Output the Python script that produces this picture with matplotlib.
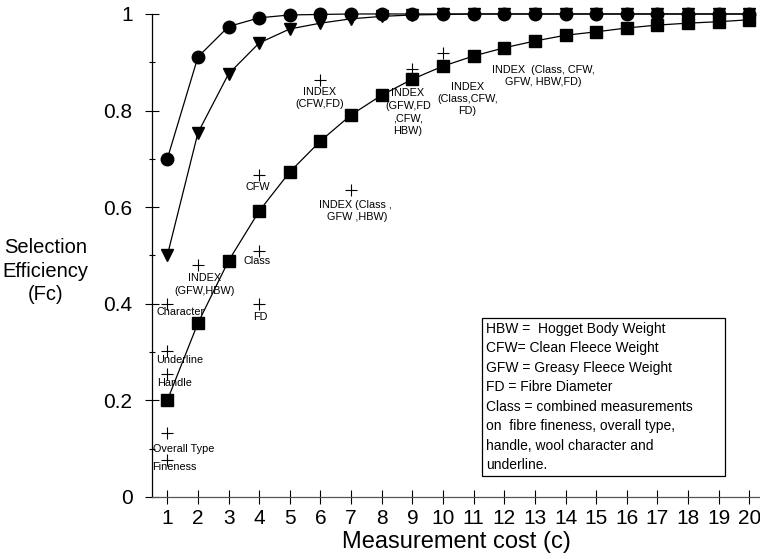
import matplotlib
matplotlib.use("Agg")
from matplotlib import pyplot as plt
from matplotlib.patches import Rectangle

plt.rcParams['font.family'] = ['Liberation Sans', 'DejaVu Sans']

# measurement cost
cost = list(range(1, 21))

# selection efficiency curves
eff_circle = [0.70, 0.911, 0.974, 0.992, 0.998, 0.999, 1.0, 1.0, 1.0, 1.0,
              1.0, 1.0, 1.0, 1.0, 1.0, 1.0, 1.0, 1.0, 1.0, 1.0]
eff_triangle = [0.50, 0.754, 0.876, 0.940, 0.969, 0.981, 0.990, 0.995, 0.998, 0.999,
                1.0, 1.0, 1.0, 1.0, 1.0, 1.0, 1.0, 1.0, 1.0, 1.0]
eff_square = [0.20, 0.36, 0.489, 0.592, 0.673, 0.737, 0.791, 0.832, 0.865, 0.892,
              0.913, 0.930, 0.944, 0.956, 0.963, 0.971, 0.977, 0.981, 0.984, 0.988]

# single traits / indices (crosses)
trait_names = ['Fineness', 'Overall Type', 'Handle', 'Underline', 'Character',
               'INDEX\n(GFW,HBW)', 'Class', 'FD', 'CFW', 'INDEX\n(CFW,FD)',
               'INDEX (Class ,\n GFW ,HBW)', 'INDEX\n(GFW,FD\n,CFW,\nHBW)',
               'INDEX\n(Class,CFW,\nFD)', 'INDEX  (Class, CFW,\nGFW, HBW,FD)']
trait_cost = [1, 1, 1, 1, 1, 2, 4, 4, 4, 6, 7, 9, 10, 13]
trait_eff = [0.077, 0.132, 0.254, 0.302, 0.40, 0.48, 0.51, 0.40, 0.667, 0.863,
             0.636, 0.886, 0.919, 0.944]

# label placement (x, y, ha) for each trait label
label_pos = [(0.52, 0.062, 'left'), (0.53, 0.099, 'left'), (1.24, 0.236, 'center'),
             (1.39, 0.284, 'center'), (1.43, 0.383, 'center'), (2.22, 0.44, 'center'),
             (3.94, 0.489, 'center'), (4.04, 0.373, 'center'), (3.97, 0.641, 'center'),
             (5.96, 0.826, 'center'), (7.14, 0.592, 'center'), (8.85, 0.797, 'center'),
             (10.8, 0.824, 'center'), (13.28, 0.872, 'center')]

yticks = [0, 0.2, 0.4, 0.6, 0.8, 1.0]
ytick_labels = ['0', '0.2', '0.4', '0.6', '0.8', '1']
yminor = [0.1, 0.3, 0.5, 0.7, 0.9]

legend_text = ("HBW =  Hogget Body Weight\n"
               "CFW= Clean Fleece Weight\n"
               "GFW = Greasy Fleece Weight\n"
               "FD = Fibre Diameter\n"
               "Class = combined measurements\n"
               "on  fibre fineness, overall type,\n"
               "handle, wool character and\n"
               "underline.")

fig = plt.figure(figsize=(7.6, 5.59), dpi=100)
ax = fig.add_axes([0.2, 0.111, 0.8, 0.864])

ax.plot(trait_cost, trait_eff, linestyle='none', marker='+', ms=8, mew=0.8,
        color='black', zorder=2, clip_on=False)
ax.plot(cost, eff_square, color='black', lw=0.9, marker='s', ms=9, zorder=3, clip_on=False)
ax.plot(cost, eff_triangle, color='black', lw=0.9, marker='v', ms=9, zorder=4, clip_on=False)
ax.plot(cost, eff_circle, color='black', lw=0.9, marker='o', ms=9, zorder=5, clip_on=False)

for name, (lx, ly, ha) in zip(trait_names, label_pos):
    ax.text(lx, ly, name, ha=ha, va='center', fontsize=7.8, linespacing=1.3, zorder=6)

# legend box
ax.add_patch(Rectangle((11.28, 0.043), 7.94, 0.328, fc='white', ec='black',
                       lw=0.9, zorder=7))
ax.text(11.42, 0.207, legend_text, ha='left', va='center', fontsize=10,
        linespacing=1.5, zorder=8)

ax.set_xlim(0.5, 20.35)
ax.set_ylim(0, 1)
ax.set_xticks(cost)
ax.set_yticks(yticks)
ax.set_yticklabels(ytick_labels)
ax.set_yticks(yminor, minor=True)
ax.tick_params(axis='both', which='major', direction='inout', length=10, width=0.8,
               labelsize=15, pad=4)
ax.tick_params(axis='y', which='major', pad=9)
ax.tick_params(axis='y', which='minor', direction='inout', length=5, width=0.8)

for side in ['top', 'right']:
    ax.spines[side].set_visible(False)
ax.spines['left'].set_linewidth(0.9)
ax.spines['bottom'].set_linewidth(0.9)
ax.spines['bottom'].set_color('#555555')

ax.set_xlabel('Measurement cost (c)', fontsize=17, labelpad=2)
fig.text(0.06, 0.515, 'Selection\nEfficiency\n(Fc)', ha='center', va='center',
         fontsize=14.5, linespacing=1.3)

fig.savefig('out.png', dpi=100)
